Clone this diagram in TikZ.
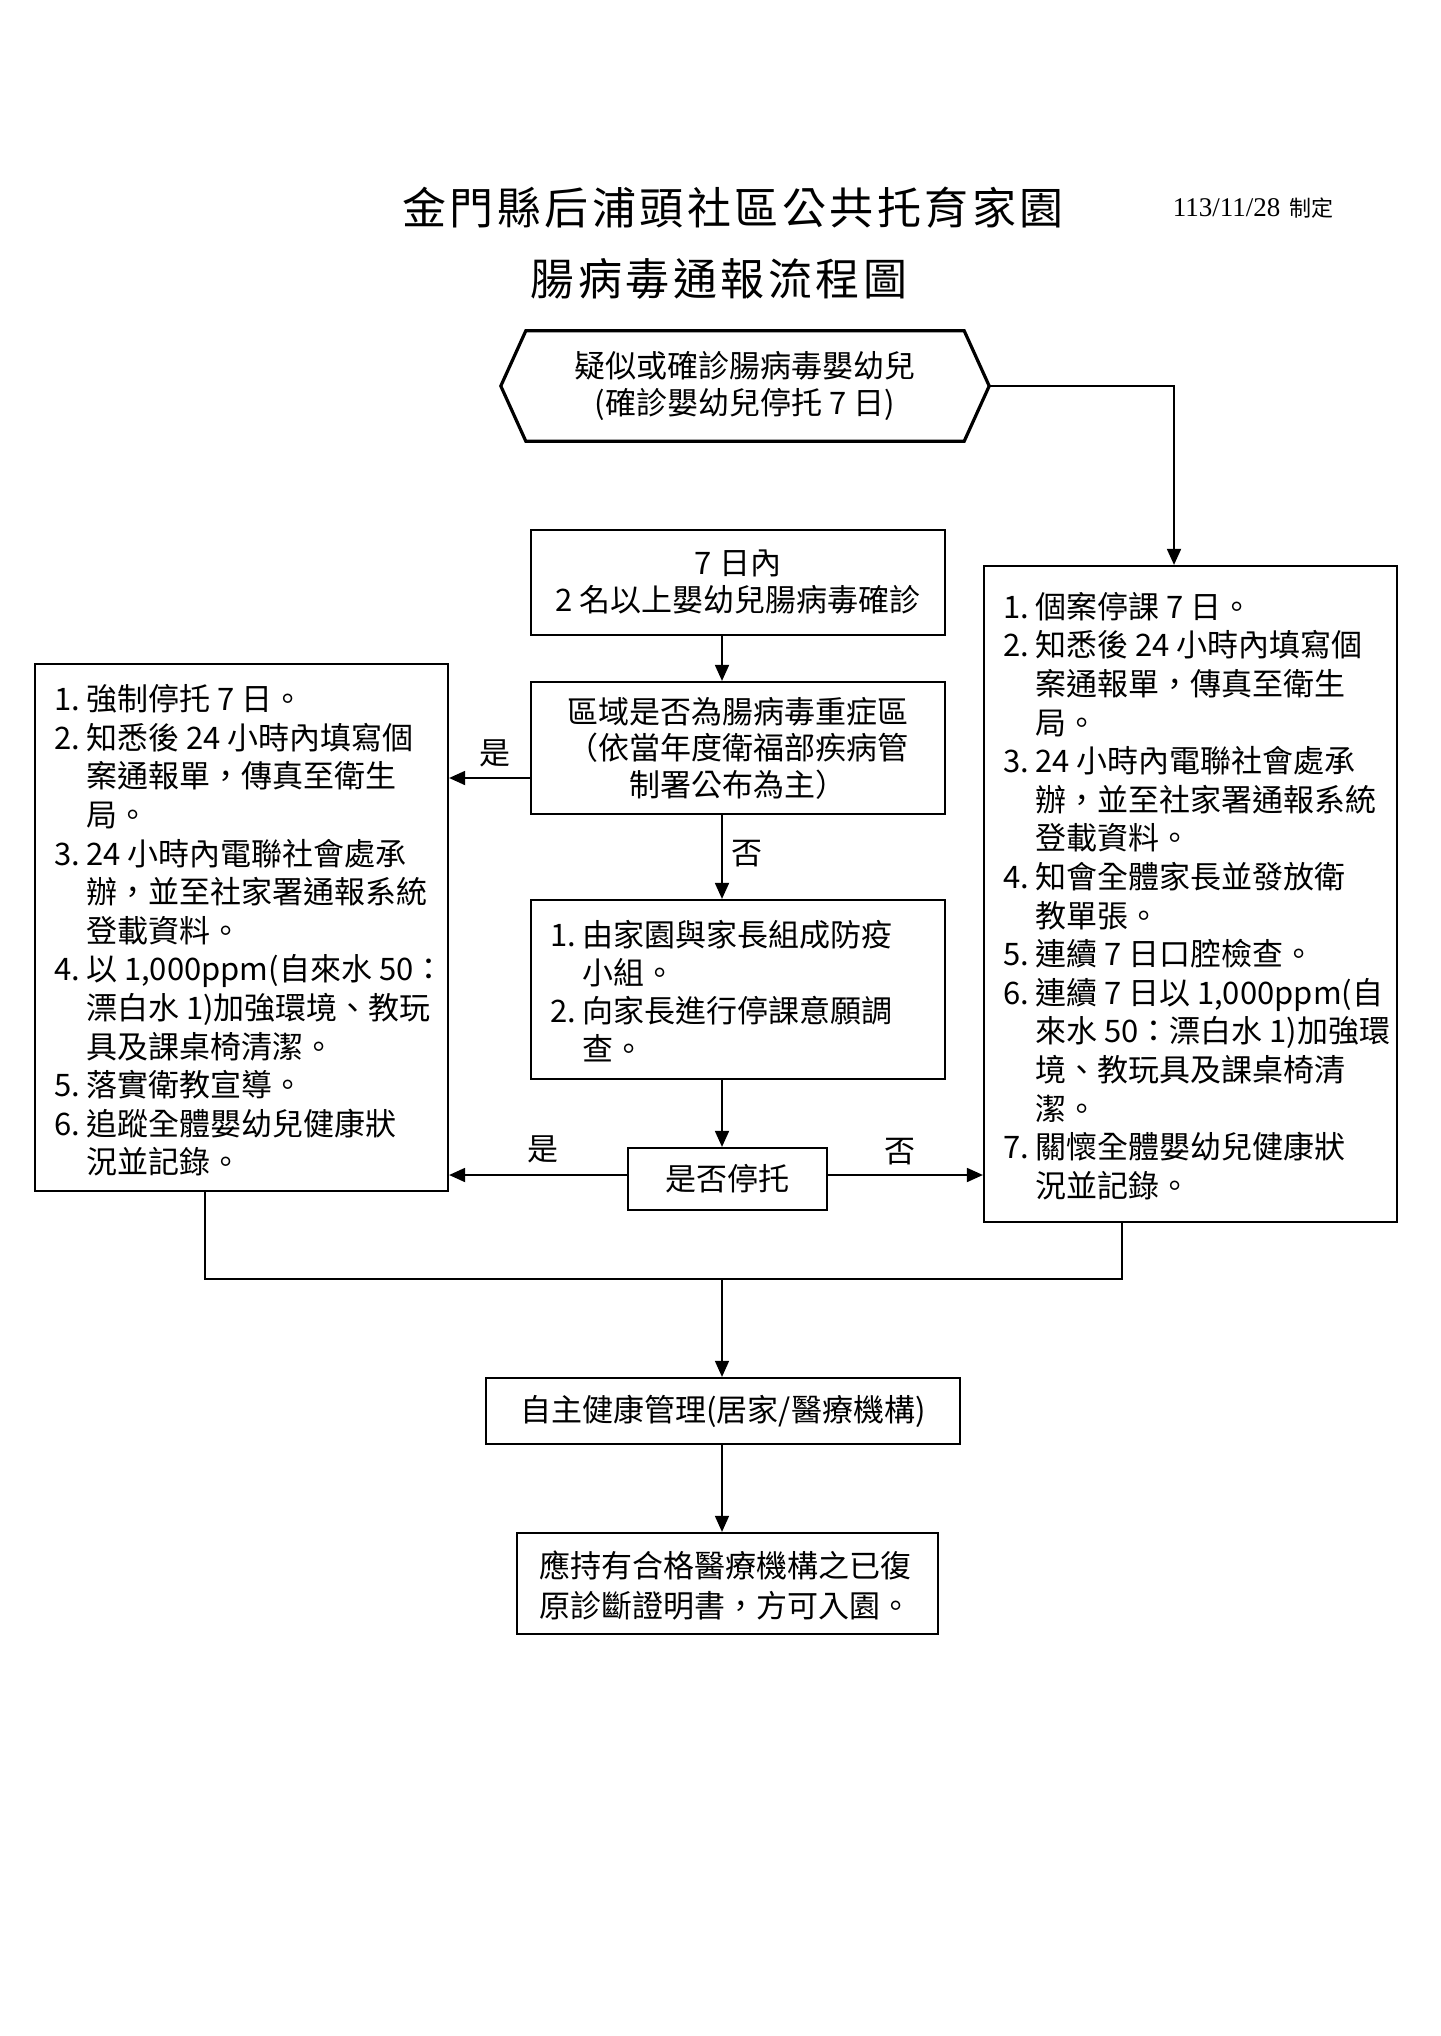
\documentclass[tikz,border=0pt]{standalone}
\usepackage{fontspec}
\setmainfont{Noto Sans CJK TC}
\newfontfamily\titlefont[LetterSpace=8]{Noto Sans CJK TC}
\newfontfamily\serifnum{Liberation Serif}
\usetikzlibrary{arrows.meta}
\newcommand\itm[1]{\makebox[32pt][l]{#1}}
\newcommand\myind{\hspace*{32pt}}
\begin{document}
\begin{tikzpicture}[x=1pt,y=-1pt,
  box/.style={draw, line width=2.2pt, inner sep=0pt},
  txt/.style={inner sep=0pt, align=left, font=\fontsize{31}{38.6}\selectfont},
  ctxt/.style={align=center, font=\fontsize{31}{36.5}\selectfont},
  conn/.style={line width=1.8pt},
  arr/.style={conn, -{Triangle[length=16pt,width=14pt]}},
  lbl/.style={font=\fontsize{31}{31}\selectfont, inner sep=0pt}]
\useasboundingbox (0,0) rectangle (1440,2036);
\fill[white] (0,0) rectangle (1440,2036);

% titles
\node[font=\titlefont\fontsize{44}{44}\selectfont, inner sep=0pt] (t1) at (733,208) {金門縣后浦頭社區公共托育家園};
\node[inner sep=0pt] (date) at (1253,208) {{\serifnum\fontsize{27}{27}\selectfont 113/11/28}\hspace{9pt}{\fontsize{22}{22}\selectfont 制定}};
\node[font=\titlefont\fontsize{44}{44}\selectfont, inner sep=0pt] (t2) at (719,279) {腸病毒通報流程圖};

% hexagon
\node[ctxt, minimum width=488pt, minimum height=110pt, inner sep=0pt] (hex) at (745,386) {疑似或確診腸病毒嬰幼兒\\(確診嬰幼兒停托 7 日)};
\draw[line width=3.2pt, line join=miter] ([xshift=25pt]hex.north west) -- ([xshift=-25pt]hex.north east) -- (hex.east) -- ([xshift=-25pt]hex.south east) -- ([xshift=25pt]hex.south west) -- (hex.west) -- cycle;

% center column
\node[box, ctxt, minimum width=414pt, minimum height=105pt, font=\fontsize{31}{37}\selectfont] (b1) at (738,582.5) {7 日內\\2 名以上嬰幼兒腸病毒確診};
\node[box, ctxt, minimum width=414pt, minimum height=132pt] (b2) at (738,748) {區域是否為腸病毒重症區\\（依當年度衛福部疾病管\\制署公布為主）};
\node[box, minimum width=414pt, minimum height=179pt] (b3) at (738,989.5) {};
\node[txt, anchor=west, font=\fontsize{31}{38}\selectfont] (b3t) at ([xshift=20pt,yshift=-2pt]b3.west) {%
\itm{1.}由家園與家長組成防疫\\
\myind 小組。\\
\itm{2.}向家長進行停課意願調\\
\myind 查。};
\node[box, ctxt, minimum width=199pt, minimum height=62pt] (stop) at (727.5,1179) {是否停托};

% left box
\node[box, minimum width=413pt, minimum height=527pt] (lbox) at (241.5,927.5) {};
\node[txt, anchor=west] (ltxt) at ([xshift=20pt,yshift=-3pt]lbox.west) {%
\itm{1.}強制停托 7 日。\\
\itm{2.}知悉後 24 小時內填寫個\\
\myind 案通報單，傳真至衛生\\
\myind 局。\\
\itm{3.}24 小時內電聯社會處承\\
\myind 辦，並至社家署通報系統\\
\myind 登載資料。\\
\itm{4.}以 1,000ppm(自來水 50：\\
\myind 漂白水 1)加強環境、教玩\\
\myind 具及課桌椅清潔。\\
\itm{5.}落實衛教宣導。\\
\itm{6.}追蹤全體嬰幼兒健康狀\\
\myind 況並記錄。};

% right box
\node[box, minimum width=413pt, minimum height=656pt] (rbox) at (1190.5,894) {};
\node[txt, anchor=west] (rtxt) at ([xshift=20pt,yshift=-2pt]rbox.west) {%
\itm{1.}個案停課 7 日。\\
\itm{2.}知悉後 24 小時內填寫個\\
\myind 案通報單，傳真至衛生\\
\myind 局。\\
\itm{3.}24 小時內電聯社會處承\\
\myind 辦，並至社家署通報系統\\
\myind 登載資料。\\
\itm{4.}知會全體家長並發放衛\\
\myind 教單張。\\
\itm{5.}連續 7 日口腔檢查。\\
\itm{6.}連續 7 日以 1,000ppm(自\\
\myind 來水 50：漂白水 1)加強環\\
\myind 境、教玩具及課桌椅清\\
\myind 潔。\\
\itm{7.}關懷全體嬰幼兒健康狀\\
\myind 況並記錄。};

% bottom boxes
\node[box, ctxt, minimum width=474pt, minimum height=66pt] (own) at (723,1411) {自主健康管理(居家/醫療機構)};
\node[box, minimum width=421pt, minimum height=101pt] (fin) at (727.5,1583.5) {};
\node[txt, anchor=west, font=\fontsize{31}{40}\selectfont] (fint) at ([xshift=23pt,yshift=-2pt]fin.west) {%
應持有合格醫療機構之已復\\
原診斷證明書，方可入園。};

% labels
\node[lbl] (y1) at (495,753) {是};
\node[lbl] (n1) at (747,854) {否};
\node[lbl] (y2) at (543,1149) {是};
\node[lbl] (n2) at (900,1152) {否};

% connectors
\draw[arr] (hex.east) -| ([xshift=-16.5pt]rbox.north);
\draw[arr] ([xshift=-16pt]b1.south) -- ([xshift=-16pt]b2.north);
\draw[arr] ([yshift=-30pt]b2.west) -- ([yshift=-30pt]b2.west -| lbox.east);
\draw[arr] ([xshift=-16pt]b2.south) -- ([xshift=-16pt]b3.north);
\draw[arr] ([xshift=-16pt]b3.south) -- ([xshift=-16pt]b3.south |- stop.north);
\draw[arr] ([yshift=4pt]stop.west) -- ([yshift=4pt]stop.west -| lbox.east);
\draw[arr] ([yshift=4pt]stop.east) -- ([yshift=4pt]stop.east -| rbox.west);
\coordinate (jn) at (722,1279);
\draw[conn] ([xshift=-36.5pt]lbox.south) |- (jn) -| ([xshift=-68.5pt]rbox.south);
\draw[arr, line width=1.5pt] (jn) -- (jn |- own.north);
\draw[arr, line width=1.5pt] ([xshift=-1pt]own.south) -- ([xshift=-1pt]own.south |- fin.north);
\end{tikzpicture}
\end{document}
